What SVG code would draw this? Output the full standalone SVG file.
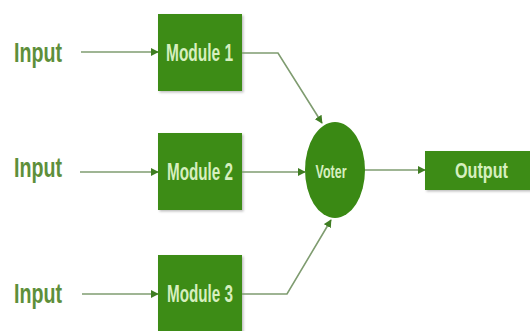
<svg xmlns="http://www.w3.org/2000/svg" width="530" height="331" viewBox="0 0 530 331">
  <style>
    .box { fill: #3d8c12; }
    .voter { fill: #3a8914; }
    .label { font-family: "Liberation Sans", Arial, sans-serif; font-weight: bold; fill: #d6efbf; text-anchor: middle; }
    .input { font-family: "Liberation Sans", Arial, sans-serif; font-weight: bold; fill: #5e8f3a; font-size: 27px; }
    .wire { fill: none; stroke: #7f9c70; stroke-width: 1.6; marker-end: url(#head); }
  </style>
  <defs>
    <marker id="head" viewBox="0 0 10 10" refX="9" refY="5" markerWidth="8" markerHeight="8" markerUnits="userSpaceOnUse" orient="auto">
      <path d="M0,0 L10,5 L0,10 z" fill="#3f7d22"/>
    </marker>
    <filter id="shadow" x="-10%" y="-10%" width="130%" height="130%">
      <feDropShadow dx="1.5" dy="1.5" stdDeviation="1.2" flood-color="#000" flood-opacity="0.25"/>
    </filter>
  </defs>
  <rect width="530" height="331" fill="#ffffff"/>

  <!-- input labels -->
  <g id="input1"><text class="input" x="14" y="62" textLength="48" lengthAdjust="spacingAndGlyphs">Input</text></g>
  <g id="input2"><text class="input" x="14" y="177" textLength="48" lengthAdjust="spacingAndGlyphs">Input</text></g>
  <g id="input3"><text class="input" x="14" y="303" textLength="48" lengthAdjust="spacingAndGlyphs">Input</text></g>

  <!-- redundant modules -->
  <g id="module1">
    <rect class="box" x="158" y="14" width="84" height="77" filter="url(#shadow)"/>
    <text class="label" x="199.5" y="61" font-size="24" textLength="67" lengthAdjust="spacingAndGlyphs">Module 1</text>
  </g>
  <g id="module2">
    <rect class="box" x="158" y="133" width="84" height="77" filter="url(#shadow)"/>
    <text class="label" x="200" y="180" font-size="24" textLength="66" lengthAdjust="spacingAndGlyphs">Module 2</text>
  </g>
  <g id="module3">
    <rect class="box" x="158" y="255" width="84" height="90" filter="url(#shadow)"/>
    <text class="label" x="200" y="302" font-size="24" textLength="66" lengthAdjust="spacingAndGlyphs">Module 3</text>
  </g>

  <!-- majority voter -->
  <g id="voter">
    <ellipse class="voter" cx="335" cy="170" rx="30" ry="48"/>
    <text class="label" x="331" y="178" font-size="18" textLength="31" lengthAdjust="spacingAndGlyphs">Voter</text>
  </g>

  <!-- result -->
  <g id="output">
    <rect class="box" x="425" y="151" width="110" height="39" filter="url(#shadow)"/>
    <text class="label" x="481.5" y="178" font-size="22" textLength="53" lengthAdjust="spacingAndGlyphs">Output</text>
  </g>

  <!-- connectors -->
  <g id="connectors">
    <path class="wire" d="M81,52 H158"/>
    <path class="wire" d="M80,172 H158"/>
    <path class="wire" d="M82,294 H158"/>
    <path class="wire" d="M242,53 H278 L322,123"/>
    <path class="wire" d="M242,172 H305"/>
    <path class="wire" d="M242,294 H287 L331,220"/>
    <path class="wire" d="M365,170 H425"/>
  </g>
</svg>
